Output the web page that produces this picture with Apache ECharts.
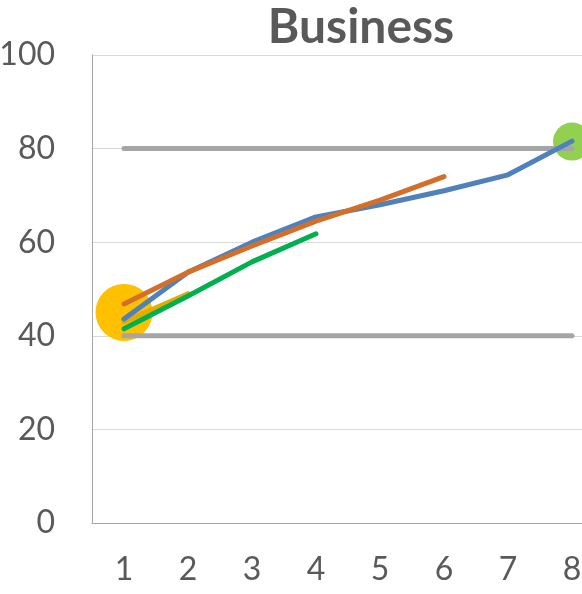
<!DOCTYPE html>
<html><head><meta charset="utf-8">
<script src="https://cdn.jsdelivr.net/npm/echarts@6/dist/echarts.min.js"></script>
<style>html,body{margin:0;padding:0;background:#fff}#c{width:582px;height:594px}</style>
</head><body><div id="c"></div>
<script>
const categories = ['1','2','3','4','5','6','7','8'];
const blueVals = [43.6, 53.6, 60, 65.4, 68, 71, 74.4, 81.6];
const orangeVals = [46.8, 53.6, 59.2, 64.5, 69, 74, null, null];
const greenVals = [41.5, 48.5, 55.8, 61.8, null, null, null, null];
const goldVals = [43, 49, null, null, null, null, null, null];
const upperLimit = [80, 80, 80, 80, 80, 80, 80, 80];
const lowerLimit = [40, 40, 40, 40, 40, 40, 40, 40];
const startPoint = [45, null, null, null, null, null, null, null];
const endPoint = [null, null, null, null, null, null, null, 81.5];
const yTicks = [0, 20, 40, 60, 80, 100];

const chart = echarts.init(document.getElementById('c'));
const font = 'Lato, "Open Sans", sans-serif';
function line(data, color, z) {
  return {type:'line', data, symbol:'none', z,
    lineStyle:{color, width:5, cap:'round', join:'round'}, connectNulls:false, animation:false};
}
chart.setOption({
  animation:false,
  title:{text:'Business', left:356, top:-1, textAlign:'center',
    textStyle:{fontFamily:font, fontSize:48, fontWeight:'bold', color:'#595959'}},
  grid:{left:92, top:55, width:512, height:468, containLabel:false, outerBoundsMode:'none'},
  xAxis:{type:'category', data:categories, boundaryGap:true,
    axisLine:{lineStyle:{color:'#A6A6A6', width:1}}, axisTick:{show:false},
    axisLabel:{fontFamily:font, fontSize:32, color:'#595959', margin:31}},
  yAxis:{type:'value', min:yTicks[0], max:yTicks[yTicks.length-1], interval:20,
    axisLine:{show:true, lineStyle:{color:'#A6A6A6', width:1}}, axisTick:{show:false},
    splitLine:{lineStyle:{color:'#D9D9D9', width:1}},
    axisLabel:{fontFamily:font, fontSize:32, color:'#595959', margin:37}},
  series:[
    {type:'scatter', data:startPoint, symbolSize:57, itemStyle:{color:'#FFC000', opacity:1}, z:1},
    {type:'scatter', data:endPoint, symbolSize:38, itemStyle:{color:'#92D050', opacity:1}, z:1},
    line(upperLimit, '#A5A5A5', 2),
    line(lowerLimit, '#A5A5A5', 2),
    line(goldVals, '#E2AC00', 3),
    line(greenVals, '#00B050', 4),
    line(blueVals, '#4F81BD', 5),
    line(orangeVals, '#D46F2A', 6)
  ]
});
</script></body></html>
